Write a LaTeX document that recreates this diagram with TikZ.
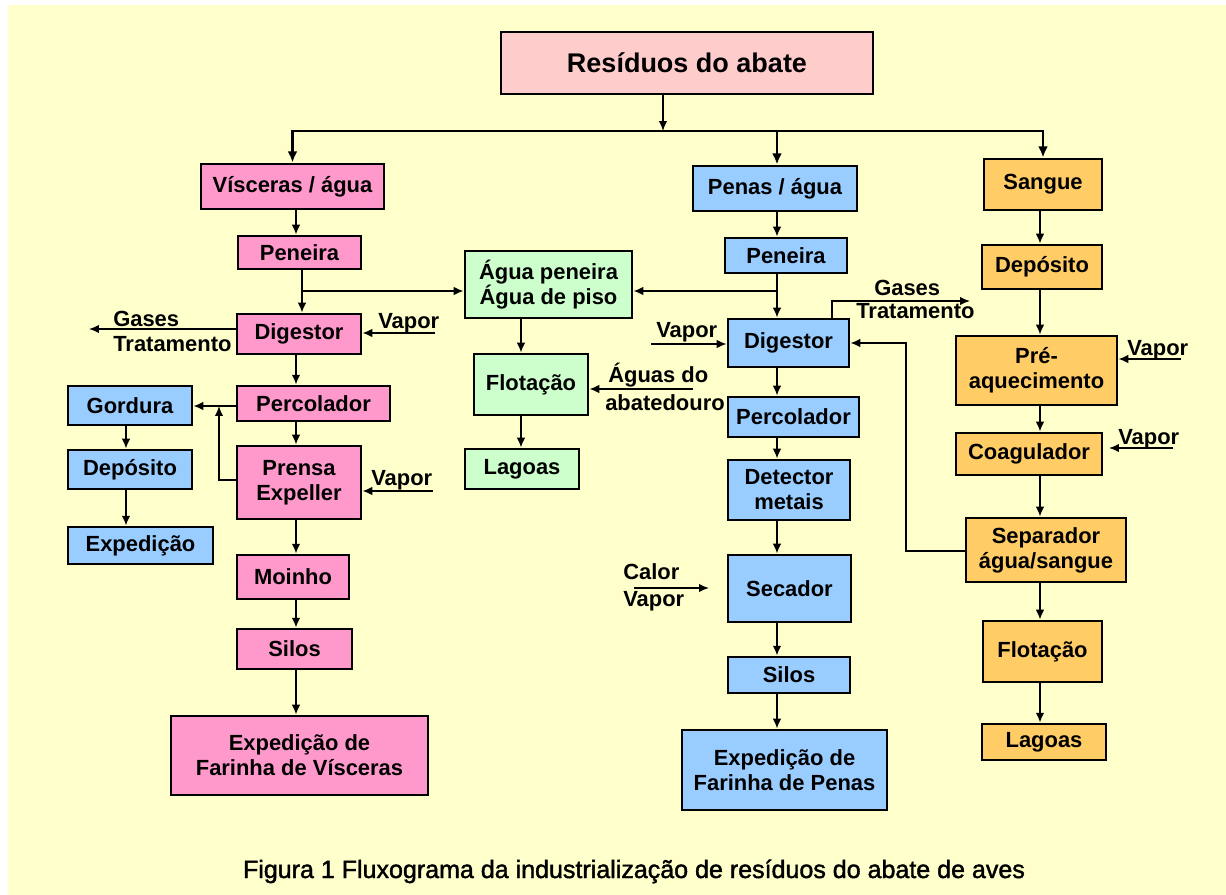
\documentclass[tikz,border=0pt]{standalone}
\usepackage{fontspec}
\setmainfont{Liberation Sans}
\newfontfamily\legfont[FakeBold=1.6]{Liberation Sans}
\usetikzlibrary{arrows.meta}

\definecolor{fundo}{HTML}{FFFFCC}
\definecolor{rosa}{HTML}{FF99CC}
\definecolor{rosaclaro}{HTML}{FFCCCC}
\definecolor{azul}{HTML}{99CCFF}
\definecolor{verde}{HTML}{CCFFCC}
\definecolor{laranja}{HTML}{FFCC66}

\begin{document}
\begin{tikzpicture}[x=0.025cm, y=-0.025cm,
    caixa/.style={draw, line width=2pt, inner sep=0pt, align=center,
        font=\fontsize{15.6}{17.7}\selectfont\bfseries},
    seta/.style={line width=1.1pt, -{Latex[length=7pt,width=6pt]}},
    barra/.style={line width=1.9pt, -{Latex[length=8pt,width=7pt]}},
    rotulo/.style={inner sep=0pt, anchor=base west,
        font=\fontsize{15.6}{17.7}\selectfont\bfseries}]
        \useasboundingbox (0,0) rectangle (1226,895);
        \fill[fundo] (8,5) rectangle (1226,895);

        % topo
        \node[caixa, fill=rosaclaro, minimum width=9.3cm, minimum height=1.55cm,
            font=\fontsize{19.2}{22}\selectfont\bfseries] (res) at (687,63) {Resíduos do abate};

        % vísceras
        \node[caixa, fill=rosa, minimum width=4.575cm, minimum height=1.125cm] (visc) at (292.5,186.5) {Vísceras / água};
        \node[caixa, fill=rosa, minimum width=3.075cm, minimum height=0.825cm] (penV) at (299.5,252.5) {Peneira};
        \node[caixa, fill=rosa, minimum width=3.1cm, minimum height=1cm] (digV) at (299,334) {Digestor};
        \node[caixa, fill=rosa, minimum width=3.825cm, minimum height=0.875cm] (perV) at (313.5,403.5) {Percolador};
        \node[caixa, fill=rosa, minimum width=3.1cm, minimum height=1.825cm] (prensa) at (299,482.5) {Prensa\\Expeller};
        \node[caixa, fill=rosa, minimum width=2.8cm, minimum height=1.1cm] (moinho) at (293,577) {Moinho};
        \node[caixa, fill=rosa, minimum width=2.875cm, minimum height=1cm] (silV) at (294.5,649) {Silos};
        \node[caixa, fill=rosa, minimum width=6.425cm, minimum height=1.975cm] (expV) at (299.5,755.5) {Expedição de\\Farinha de Vísceras};

        % gordura
        \node[caixa, fill=azul, minimum width=3.1cm, minimum height=0.975cm] (gord) at (130,405.5) {Gordura};
        \node[caixa, fill=azul, minimum width=3.1cm, minimum height=0.975cm] (depG) at (130,469.5) {Depósito};
        \node[caixa, fill=azul, minimum width=3.625cm, minimum height=0.925cm] (expG) at (140.5,545.5) {Expedição};

        % águas
        \node[caixa, fill=verde, minimum width=4.175cm, minimum height=1.675cm] (agua) at (548.5,284.5) {Água peneira\\Água de piso};
        \node[caixa, fill=verde, minimum width=2.85cm, minimum height=1.525cm] (flotG) at (531,384.5) {Flotação};
        \node[caixa, fill=verde, minimum width=2.85cm, minimum height=1cm] (lagG) at (522,469) {Lagoas};

        % penas
        \node[caixa, fill=azul, minimum width=4.1cm, minimum height=1.125cm] (penas) at (775,188.5) {Penas / água};
        \node[caixa, fill=azul, minimum width=3.05cm, minimum height=0.875cm] (penP) at (786,255.5) {Peneira};
        \node[caixa, fill=azul, minimum width=3.025cm, minimum height=1.2cm] (digP) at (788.5,343) {Digestor};
        \node[caixa, fill=azul, minimum width=3.275cm, minimum height=1cm] (perP) at (793.5,417) {Percolador};
        \node[caixa, fill=azul, minimum width=3.05cm, minimum height=1.5cm] (det) at (789,490) {Detector\\metais};
        \node[caixa, fill=azul, minimum width=3.075cm, minimum height=1.675cm] (sec) at (789.5,588.5) {Secador};
        \node[caixa, fill=azul, minimum width=3.05cm, minimum height=0.9cm] (silP) at (789,675) {Silos};
        \node[caixa, fill=azul, minimum width=5.125cm, minimum height=2cm] (expP) at (784.5,770) {Expedição de\\Farinha de Penas};

        % sangue
        \node[caixa, fill=laranja, minimum width=2.95cm, minimum height=1.275cm] (sang) at (1043,184.5) {Sangue};
        \node[caixa, fill=laranja, minimum width=3cm, minimum height=1.1cm] (depS) at (1042,267) {Depósito};
        \node[caixa, fill=laranja, minimum width=4.025cm, minimum height=1.725cm] (pre) at (1036.5,370.5) {Pré-\\aquecimento};
        \node[caixa, fill=laranja, minimum width=3.65cm, minimum height=1.05cm] (coag) at (1029,454) {Coagulador};
        \node[caixa, fill=laranja, minimum width=4cm, minimum height=1.6cm] (sep) at (1046,550) {Separador\\água/sangue};
        \node[caixa, fill=laranja, minimum width=2.975cm, minimum height=1.525cm] (flotS) at (1042.5,651.5) {Flotação};
        \node[caixa, fill=laranja, minimum width=3.1cm, minimum height=0.9cm] (lagS) at (1044,742) {Lagoas};

        % colunas
        \coordinate (cL) at (296,0);
        \coordinate (cL2) at (302,0);
        \coordinate (cG) at (126,0);
        \coordinate (cW) at (521,0);
        \coordinate (cP) at (777,0);
        \coordinate (cS) at (1040,0);

        % distribuição
        \coordinate (bus) at (663,131);
        \draw[seta] (res.south -| bus) -- (bus);
        \draw[barra] (bus) -| (visc.north);
        \draw[barra] (bus) -| (sang.north);
        \draw[barra] (cP |- bus) -- (penas.north -| cP);

        % fluxos verticais
        \foreach \a/\b in {visc/penV, digV/perV, perV/prensa, prensa/moinho, moinho/silV, silV/expV}
        {
        \draw[seta] (\a.south -| cL) -- (\b.north -| cL);
        }
        \draw[seta] (penV.south -| cL2) -- (digV.north -| cL2);
        \foreach \a/\b in {gord/depG, depG/expG}
        {
        \draw[seta] (\a.south -| cG) -- (\b.north -| cG);
        }
        \foreach \a/\b in {agua/flotG, flotG/lagG}
        {
        \draw[seta] (\a.south -| cW) -- (\b.north -| cW);
        }
        \foreach \a/\b in {penas/penP, penP/digP, digP/perP, perP/det, det/sec, sec/silP, silP/expP}
        {
        \draw[seta] (\a.south -| cP) -- (\b.north -| cP);
        }
        \foreach \a/\b in {sang/depS, depS/pre, pre/coag, coag/sep, sep/flotS, flotS/lagS}
        {
        \draw[seta] (\a.south -| cS) -- (\b.north -| cS);
        }

        % água das peneiras
        \coordinate (jV) at (302,291);
        \coordinate (jP) at (777,291);
        \draw[seta] (jV) -- (agua.west |- jV);
        \draw[seta] (jP) -- (agua.east |- jP);

        % gases e vapor (vísceras)
        \coordinate (gasL) at (89,329);
        \draw[seta] (digV.west |- gasL) -- (gasL);
        \node[rotulo] (gasesL) at (113,326) {Gases};
        \node[rotulo] (tratL) at (113,351) {Tratamento};
        \coordinate (vD) at (435,333);
        \draw[seta] (vD) -- (digV.east |- vD);
        \node[rotulo] (vapD) at (378,328) {Vapor};
        \coordinate (vPr) at (433,491);
        \draw[seta] (vPr) -- (prensa.east |- vPr);
        \node[rotulo] (vapPr) at (371,485) {Vapor};

        % gordura
        \coordinate (jG) at (219,406);
        \coordinate (jPr) at (219,480);
        \draw[seta] (perV.west |- jG) -- (gord.east |- jG);
        \draw[seta] (prensa.west |- jPr) -- (jPr) -- (jG);

        % águas do abatedouro
        \coordinate (ab) at (693,389);
        \draw[seta] (ab) -- (flotG.east |- ab);
        \node[rotulo] (aguas) at (608,382) {Águas do};
        \node[rotulo] (abat) at (605,410) {abatedouro};

        % gases e vapor (penas)
        \coordinate (vDP) at (651,344);
        \draw[seta] (vDP) -- (digP.west |- vDP);
        \node[rotulo] (vapDP) at (656,337) {Vapor};
        \coordinate (gP0) at (832,301);
        \coordinate (gasP) at (970,301);
        \draw[seta] (digP.north -| gP0) -- (gP0) -- (gasP);
        \node[rotulo] (gasesP) at (874,295) {Gases};
        \node[rotulo] (tratP) at (856,318) {Tratamento};
        \coordinate (cv0) at (634,588);
        \coordinate (cv1) at (709,588);
        \draw[seta] (cv0) -- (cv1);
        \node[rotulo] (calor) at (623,579) {Calor};
        \node[rotulo] (vapSec) at (623,606) {Vapor};

        % retorno do separador
        \coordinate (retB) at (906,551);
        \coordinate (ret) at (906,343);
        \draw[seta] (sep.west |- retB) -- (retB) -- (ret) -- (digP.east |- ret);

        % vapor (sangue)
        \coordinate (vPre) at (1181,359);
        \draw[seta] (vPre) -- (pre.east |- vPre);
        \node[rotulo] (vapPre) at (1127,355) {Vapor};
        \coordinate (vCo) at (1173,448);
        \coordinate (vCo1) at (1109,448);
        \draw[seta] (vCo) -- (vCo1);
        \node[rotulo] (vapCo) at (1118,444) {Vapor};

        % legenda
        \node[inner sep=0pt, anchor=base, font=\fontsize{17.8}{20}\legfont] (leg) at (634,878)
            {Figura 1 Fluxograma da industrialização de resíduos do abate de aves};
    \end{tikzpicture}
\end{document}
